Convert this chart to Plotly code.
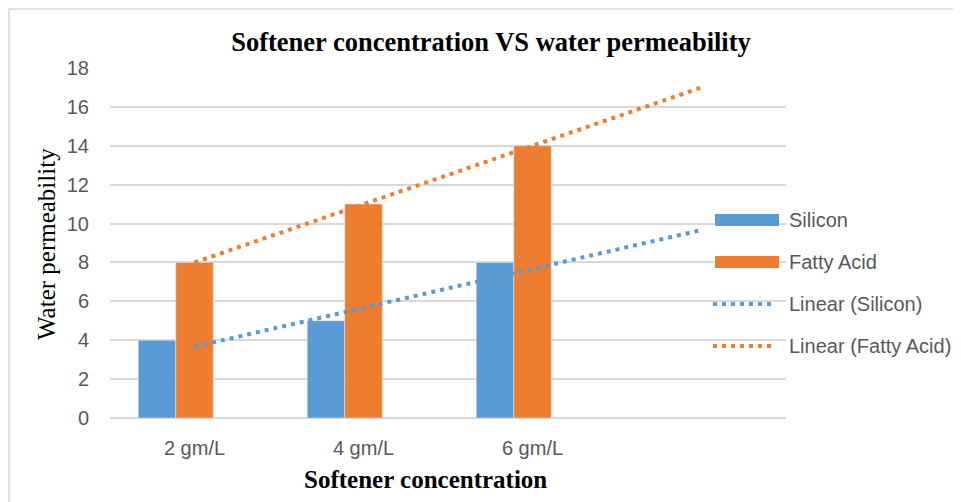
import numpy as np
import plotly.graph_objects as go

categories = ["2 gm/L", "4 gm/L", "6 gm/L"]
silicon = [4, 5, 8]
fatty_acid = [8, 11, 14]
y_ticks = [0, 2, 4, 6, 8, 10, 12, 14, 16, 18]

BLUE = "#5B9BD5"
ORANGE = "#ED7D31"
GRID = "#D9D9D9"
TXT = "#595959"
SANS = "Liberation Sans, Arial, sans-serif"
SERIF = "Liberation Serif, Times New Roman, serif"

x_pos = np.arange(1, len(categories) + 1)
x_trend = np.arange(1, len(categories) + 2)  # forward 1 period


def trend(vals):
    m, b = np.polyfit(x_pos, vals, 1)
    return m * x_trend + b


fig = go.Figure()
fig.add_trace(go.Bar(x=x_pos, y=silicon, name="Silicon", marker_color=BLUE, showlegend=False))
fig.add_trace(go.Bar(x=x_pos, y=fatty_acid, name="Fatty Acid", marker_color=ORANGE, showlegend=False))
# empty series (reserves a third slot in each group, like the source chart)
fig.add_trace(go.Bar(x=x_pos, y=[None] * len(x_pos), name="", showlegend=False, hoverinfo="skip"))

DOT = "4px,5px"
fig.add_trace(go.Scatter(x=x_trend, y=trend(silicon), mode="lines", name="Linear (Silicon)",
                         line=dict(color=BLUE, width=4, dash=DOT), showlegend=False))
fig.add_trace(go.Scatter(x=x_trend, y=trend(fatty_acid), mode="lines", name="Linear (Fatty Acid)",
                         line=dict(color=ORANGE, width=4, dash=DOT), showlegend=False))

# page offset of the figure (default body margin)
OX, OY = 8, 8
PAGE_W, PAGE_H = 961, 502
W, H = PAGE_W - OX, PAGE_H - OY
# plot area in page pixels
L, R, T, B = 110, 786, 68, 418
pw, ph = R - L, B - T


def px(xp):
    return (xp - L) / pw


def py(yp):
    return (B - yp) / ph


shapes = []
annotations = []
legend_items = [
    ("Silicon", "bar", BLUE, 220),
    ("Fatty Acid", "bar", ORANGE, 262),
    ("Linear (Silicon)", "line", BLUE, 304),
    ("Linear (Fatty Acid)", "line", ORANGE, 346),
]
for label, kind, col, yc in legend_items:
    if kind == "bar":
        shapes.append(dict(type="rect", xref="paper", yref="paper",
                           x0=px(715), x1=px(779), y0=py(yc + 6), y1=py(yc - 6),
                           fillcolor=col, line=dict(width=0)))
    else:
        shapes.append(dict(type="line", xref="paper", yref="paper",
                           x0=px(713), x1=px(773), y0=py(yc), y1=py(yc),
                           line=dict(color=col, width=4, dash=DOT)))
    annotations.append(dict(text=label, xref="paper", yref="paper", x=px(787), y=py(yc),
                            xanchor="left", yanchor="middle", showarrow=False,
                            font=dict(family=SANS, size=20, color=TXT)))

# chart frame
shapes.append(dict(type="rect", xref="paper", yref="paper", x0=px(9), x1=px(990),
                   y0=py(530), y1=py(9), line=dict(color=GRID, width=1.5), layer="below"))

annotations.append(dict(text="<b>Softener concentration</b>", xref="paper", yref="paper",
                        x=px(425), y=py(480), xanchor="center", yanchor="middle", showarrow=False,
                        font=dict(family=SERIF, size=25, color="black")))
annotations.append(dict(text="Water permeability", xref="paper", yref="paper",
                        x=px(46), y=py(244), xanchor="center", yanchor="middle", showarrow=False,
                        textangle=-90, font=dict(family=SERIF, size=25, color="black")))

fig.update_layout(
    width=W, height=H, autosize=False,
    margin=dict(l=L - OX, r=PAGE_W - R, t=T - OY, b=PAGE_H - B, pad=0),
    paper_bgcolor="white", plot_bgcolor="white",
    barmode="group", bargap=0.334, bargroupgap=0,
    title=dict(text="<b>Softener concentration VS water permeability</b>",
               xref="paper", x=px(491), xanchor="center",
               yref="container", y=1 - (42 - OY) / H, yanchor="middle",
               font=dict(family=SERIF, size=26.5, color="black")),
    xaxis=dict(range=[0.5, len(categories) + 1.5], tickmode="array", tickvals=list(x_pos),
               ticktext=categories, showgrid=False, zeroline=False, showline=False,
               ticks="", ticklabelstandoff=16, tickfont=dict(family=SANS, size=20, color=TXT)),
    yaxis=dict(range=[0, 18], tickmode="array", tickvals=y_ticks, showgrid=True,
               gridcolor=GRID, gridwidth=1.5, zeroline=True, zerolinecolor=GRID, zerolinewidth=1.5,
               showline=False, ticks="", ticklabelstandoff=20,
               tickfont=dict(family=SANS, size=20, color=TXT)),
    shapes=shapes, annotations=annotations, showlegend=False,
)

fig.write_html("out.html")
